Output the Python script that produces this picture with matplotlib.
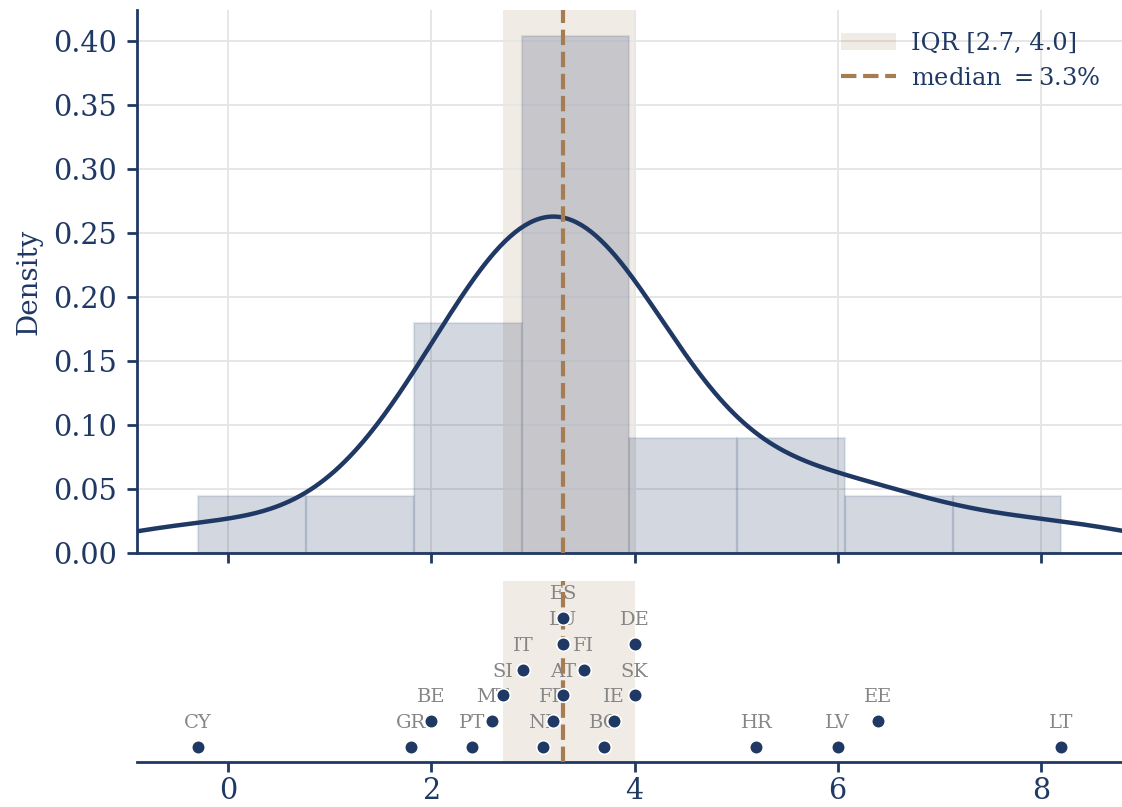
import numpy as np
import matplotlib
matplotlib.use("Agg")
from matplotlib import pyplot as plt
from matplotlib.patches import Patch
from matplotlib.lines import Line2D

plt.rcParams['font.family'] = 'DejaVu Serif'
plt.rcParams['mathtext.fontset'] = 'dejavuserif'

NAVY = '#1f3864'
BROWN = '#a67c52'

# country values (%)
countries = ['CY', 'GR', 'BE', 'PT', 'MT', 'SI', 'IT', 'NL', 'FR', 'AT', 'LU', 'ES',
             'FI', 'BG', 'IE', 'SK', 'DE', 'HR', 'LV', 'EE', 'LT']
values = [-0.3, 1.8, 2.0, 2.4, 2.6, 2.7, 2.9, 3.1, 3.2, 3.3, 3.3, 3.3,
          3.5, 3.7, 3.8, 4.0, 4.0, 5.2, 6.0, 6.4, 8.2]
xticks = [0, 2, 4, 6, 8]
yticks = [0.00, 0.05, 0.10, 0.15, 0.20, 0.25, 0.30, 0.35, 0.40]

vals = np.array(values)
n = len(vals)
q1, med, q3 = np.percentile(vals, [25, 50, 75])
xmin, xmax = vals.min() - 0.6, vals.max() + 0.6

# gaussian kde, scott's rule
bw = vals.std(ddof=1) * n ** (-1 / 5)
xs = np.linspace(xmin, xmax, 400)
dens = np.exp(-0.5 * ((xs[:, None] - vals[None, :]) / bw) ** 2).sum(axis=1) / (n * bw * np.sqrt(2 * np.pi))

# stack the dots so they don't overlap
order = np.argsort(vals, kind='stable')
levels = np.zeros(n, dtype=int)
placed = {}
for i in order:
    lv = 0
    while any(abs(vals[i] - vals[j]) < 0.55 for j in placed.get(lv, [])):
        lv += 1
    placed.setdefault(lv, []).append(i)
    levels[i] = lv

fig = plt.figure(figsize=(5.61, 4.035), dpi=200)
ax = fig.add_axes([0.1221, 0.3147, 0.8779, 0.6729])
ax2 = fig.add_axes([0.1221, 0.0558, 0.8779, 0.2242], sharex=ax)

# --- top: histogram + kde
ax.axvspan(q1, q3, color=BROWN, alpha=0.15, lw=0, zorder=0.5)
ax.hist(vals, bins=8, range=(vals.min(), vals.max()), density=True,
        facecolor=(31/255, 56/255, 100/255, 0.2), edgecolor=(31/255, 56/255, 100/255, 0.1),
        linewidth=0.8, zorder=1)
ax.plot(xs, dens, color=NAVY, lw=1.6, zorder=3)
ax.axvline(med, color=BROWN, ls='--', lw=1.5, zorder=4)

ax.set_xlim(xmin, xmax)
ax.set_ylim(0, 0.424)
ax.set_yticks(yticks)
ax.set_yticklabels([f'{t:.2f}' for t in yticks])
ax.set_xticks(xticks)
ax.tick_params(axis='x', labelbottom=False)
ax.set_ylabel('Density', color=NAVY, fontsize=10, labelpad=4)
ax.grid(True, color='#e6e6e6', lw=0.7)
ax.set_axisbelow(True)
for s in ['top', 'right']:
    ax.spines[s].set_visible(False)

handles = [Patch(facecolor=BROWN, alpha=0.15, edgecolor='none'),
           Line2D([0], [0], color=BROWN, ls='--', lw=1.5)]
leg = ax.legend(handles, [f'IQR [{q1:.1f}, {q3:.1f}]', rf'median $= {med:.1f}\%$'],
                loc='upper right', frameon=False, fontsize=8.7, handlelength=2.3,
                handletextpad=0.6)
for t in leg.get_texts():
    t.set_color(NAVY)

# --- bottom: dot strip
ax2.axvspan(q1, q3, color=BROWN, alpha=0.15, lw=0, zorder=0.5)
ax2.axvline(med, color=BROWN, ls='--', lw=1.5, zorder=3)
ax2.scatter(vals, levels, s=24, color=NAVY, edgecolor='white', linewidth=0.6, zorder=4)
for c, v, lv in zip(countries, vals, levels):
    ax2.annotate(c, (v, lv), xytext=(0, 6.8), textcoords='offset points',
                 ha='center', va='baseline', fontsize=7, color='#858585', zorder=2)
ax2.set_ylim(-0.58, levels.max() + 1.44)
ax2.set_yticks([])
ax2.set_xticks(xticks)
for s in ['top', 'right', 'left']:
    ax2.spines[s].set_visible(False)

for a in (ax, ax2):
    for s in a.spines.values():
        s.set_color(NAVY)
        s.set_linewidth(1.0)
    a.tick_params(colors=NAVY, labelsize=10.3, length=3.7, width=1.0)
ax2.tick_params(axis='x', pad=1.8)

fig.savefig('out.png', dpi=200)
